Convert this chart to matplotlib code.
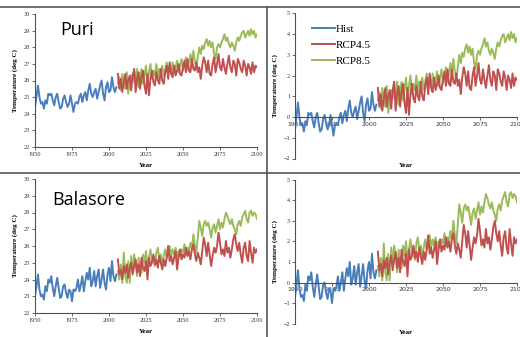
import numpy as np
import matplotlib
matplotlib.use('Agg')
import matplotlib.pyplot as plt
from matplotlib.lines import Line2D

# annual mean temperature (deg C)
puri_hist = [24.4, 25.0, 25.7, 25.0, 24.6, 24.7, 24.3, 24.8, 24.6, 25.2,
             25.1, 25.2, 24.8, 24.5, 25.0, 25.2, 24.7, 24.3, 24.4, 24.9,
             25.1, 24.7, 24.4, 24.6, 25.1, 24.6, 24.1, 24.6, 24.7, 24.6,
             25.0, 25.2, 24.7, 25.1, 25.3, 24.8, 25.4, 25.8, 25.2, 25.0,
             25.3, 25.5, 24.9, 25.3, 25.7, 26.0, 25.2, 24.8, 25.6, 25.9,
             25.3, 25.4, 26.2, 25.6, 25.3, 25.6]
puri_rcp45 = [26.4, 25.5, 26.1, 25.3, 25.9, 26.4, 25.5, 26.0, 26.3, 25.4,
              26.3, 26.7, 25.3, 26.1, 26.5, 25.5, 26.2, 26.6, 25.7, 25.2,
              26.4, 25.1, 26.1, 26.6, 25.9, 25.7, 26.5, 26.0, 25.8, 26.7,
              26.0, 25.8, 26.5, 26.9, 26.1, 27.1, 26.4, 26.2, 26.9, 26.3,
              26.6, 27.0, 26.4, 26.3, 26.8, 27.2, 26.5, 27.3, 26.6, 26.5,
              27.3, 26.7, 26.6, 27.1, 26.5, 26.8, 26.1, 26.9, 27.4, 27.1,
              26.5, 27.2, 26.4, 26.3, 27.0, 27.4, 26.5, 27.0, 27.6, 26.8,
              26.6, 27.3, 26.8, 26.4, 27.0, 27.5, 26.8, 26.5, 27.2, 27.0,
              26.3, 27.3, 27.1, 26.7, 26.5, 27.2, 26.9, 26.3, 27.0, 26.8,
              26.4, 27.1, 26.5, 26.9, 26.8]
puri_rcp85 = [25.8, 26.2, 25.4, 26.4, 25.9, 25.5, 26.5, 25.2, 25.8, 26.3,
              25.9, 26.6, 25.8, 26.7, 25.6, 26.2, 26.7, 25.8, 26.3, 26.9,
              25.9, 26.5, 27.0, 26.1, 26.6, 26.3, 27.0, 26.2, 26.7, 26.5,
              26.9, 26.3, 26.7, 27.1, 26.5, 26.9, 26.4, 27.1, 26.6, 26.8,
              27.2, 26.5, 26.9, 27.3, 26.6, 26.9, 27.4, 26.7, 27.1, 27.6,
              27.0, 27.8, 27.2, 26.8, 27.4, 28.0, 27.6, 28.1, 27.9, 28.3,
              28.5, 28.1, 28.4, 28.0, 28.3, 27.6, 27.3, 28.0, 28.2, 28.0,
              28.3, 28.5, 28.8, 28.4, 28.6, 28.2, 28.0, 28.3, 28.1, 27.8,
              28.3, 28.6, 28.4, 28.7, 28.9, 29.0, 28.6, 28.8, 29.0, 28.7,
              29.1, 28.8, 29.0, 28.6, 28.8]

bal_hist = [23.0, 23.6, 24.3, 23.4, 23.0, 23.1, 22.8, 23.6, 23.3, 24.0,
            23.8, 24.2, 23.5, 23.0, 23.6, 24.1, 23.5, 22.9, 23.0, 23.6,
            23.7, 23.2, 22.9, 23.4, 23.3, 22.7, 23.4, 23.3, 23.5, 24.0,
            23.3, 23.7, 24.2, 23.3, 23.9, 24.4, 24.0, 24.7, 23.6, 23.9,
            24.5, 23.6, 24.2, 24.6, 23.5, 24.0, 24.6, 23.8, 23.4, 24.3,
            24.7, 23.9, 25.1, 24.2, 23.9, 24.3]
bal_rcp45 = [25.2, 24.3, 24.6, 24.0, 24.8, 24.4, 24.9, 24.1, 24.7, 25.0,
             24.3, 24.8, 25.2, 24.4, 24.9, 24.2, 25.3, 24.7, 24.5, 25.1,
             24.0, 25.3, 24.8, 25.0, 25.5, 24.9, 25.2, 24.7, 25.4, 25.0,
             24.6, 25.2, 24.8, 25.3, 26.0, 25.1, 25.4, 24.9, 25.3, 25.7,
             24.6, 25.3, 25.8, 25.2, 25.5, 25.3, 25.9, 25.4, 25.7, 25.2,
             25.8, 26.1, 25.5, 25.1, 25.6, 25.3, 24.9, 25.7, 26.5, 26.1,
             25.4, 26.2, 25.5, 24.8, 25.4, 25.9, 25.6, 26.0, 26.8, 26.2,
             25.5, 25.8, 25.4, 26.3, 25.6, 25.9, 25.3, 25.8, 26.4, 26.7,
             26.1, 25.7, 26.2, 25.5, 25.0, 25.9, 26.2, 25.4, 25.1, 26.3,
             25.6, 25.0, 25.9, 25.6, 25.8]
bal_rcp85 = [24.5, 24.0, 24.9, 23.8, 25.6, 24.2, 23.8, 25.1, 23.8, 25.4,
             24.6, 25.5, 24.9, 24.2, 25.3, 24.8, 24.4, 25.5, 25.0, 25.7,
             24.7, 25.3, 25.8, 25.1, 25.4, 24.8, 25.6, 25.9, 25.2, 25.5,
             25.0, 25.4, 25.8, 25.3, 25.6, 26.0, 25.4, 25.8, 25.5, 25.9,
             25.3, 25.7, 25.4, 25.8, 25.6, 26.1, 25.5, 25.9, 25.7, 26.2,
             25.8, 26.7, 26.0, 25.6, 26.5, 27.5, 27.1, 26.6, 27.3, 27.5,
             27.2, 27.4, 27.0, 26.5, 27.1, 27.3, 26.8, 27.2, 27.6, 27.0,
             27.4, 27.1, 27.6, 28.0, 27.8, 27.5, 27.3, 27.6, 27.2, 27.0,
             26.7, 27.3, 27.5, 27.2, 27.7, 27.9, 28.1, 27.6, 27.4, 28.0,
             28.1, 27.8, 28.0, 27.9, 27.6]

# baseline used for the anomaly panels
puri_base = 25.0
bal_base = 23.7

stations = ['Puri', 'Balasore']
year_ticks = [1950, 1975, 2000, 2025, 2050, 2075, 2100]

c_hist = '#4a7ebb'
c_45 = '#c0504d'
c_85 = '#9bbb59'
serif = 'Liberation Serif'

W, H = 520, 337
fig = plt.figure(figsize=(W / 100, H / 100), dpi=100)


def box(x0, x1, ytop, ybot):
    return [x0 / W, 1 - ybot / H, (x1 - x0) / W, (ybot - ytop) / H]


def style(ax, ylim, yticks):
    ax.set_xlim(1950, 2100)
    ax.set_ylim(*ylim)
    ax.set_xticks(year_ticks)
    ax.set_yticks(yticks)
    for s in ['top', 'right']:
        ax.spines[s].set_visible(False)
    for s in ['left', 'bottom']:
        ax.spines[s].set_color('#505050')
        ax.spines[s].set_linewidth(0.8)
    ax.tick_params(length=2, width=0.6, color='#505050', labelsize=4.5,
                   pad=1.5, labelcolor='#333333')
    for lab in ax.get_xticklabels() + ax.get_yticklabels():
        lab.set_fontfamily(serif)
    ax.set_ylabel('Temperature (deg C)', fontsize=5, fontweight='bold',
                  family=serif)
    ax.yaxis.set_label_coords(-0.077, 0.5)
    ax.set_xlabel('Year', fontsize=5, fontweight='bold', family=serif)
    ax.patch.set_alpha(0)


def draw(ax, hist, r45, r85, base=0.0):
    yh = np.arange(1950, 1950 + len(hist))
    yr = np.arange(2006, 2006 + len(r45))
    ax.plot(yh, np.array(hist) - base, color=c_hist, lw=1.4, label='Hist')
    ax.plot(yr, np.array(r85) - base, color=c_85, lw=1.4, label='RCP8.5')
    ax.plot(yr, np.array(r45) - base, color=c_45, lw=1.4, label='RCP4.5')


# absolute panels
ax1 = fig.add_axes(box(35, 257, 14.3, 146.7))
draw(ax1, puri_hist, puri_rcp45, puri_rcp85)
style(ax1, (22, 30), range(22, 31))
ax1.xaxis.set_label_coords(0.5, -0.12)

ax3 = fig.add_axes(box(35, 257, 179, 313))
draw(ax3, bal_hist, bal_rcp45, bal_rcp85)
style(ax3, (22, 30), range(22, 31))
ax3.xaxis.set_label_coords(0.5, -0.12)

# anomaly panels
ax2 = fig.add_axes(box(295, 517, 13.3, 158.5))
draw(ax2, puri_hist, puri_rcp45, puri_rcp85, puri_base)
style(ax2, (-2, 5), range(-2, 6))
ax2.spines['bottom'].set_position(('data', 0))
ax2.xaxis.set_label_coords(0.5, -0.03)
h, l = ax2.get_legend_handles_labels()
order = [0, 2, 1]
ax2.legend([h[i] for i in order], [l[i] for i in order],
           loc='upper left', bbox_to_anchor=(0.03, 0.995), frameon=False,
           handlelength=2.1, handletextpad=0.1, labelspacing=0.55,
           prop={'family': serif, 'size': 8})

ax4 = fig.add_axes(box(295, 517, 179.7, 323.7))
draw(ax4, bal_hist, bal_rcp45, bal_rcp85, bal_base)
style(ax4, (-2, 5), range(-2, 6))
ax4.spines['bottom'].set_position(('data', 0))
ax4.xaxis.set_label_coords(0.5, -0.045)

# station names
fig.text(60 / W, 1 - 30 / H, stations[0], fontsize=13, family='Open Sans',
         ha='left', va='center')
fig.text(52 / W, 1 - 200 / H, stations[1], fontsize=13, family='Open Sans',
         ha='left', va='center')

# table borders
sep = dict(color='#555555', lw=1.2)
fig.add_artist(Line2D([0, 1], [1 - 7 / H, 1 - 7 / H], **sep))
fig.add_artist(Line2D([0, 1], [1 - 172.5 / H, 1 - 172.5 / H], **sep))
fig.add_artist(Line2D([267 / W, 267 / W], [0, 1 - 7 / H], **sep))

fig.savefig('out.png', dpi=100)
